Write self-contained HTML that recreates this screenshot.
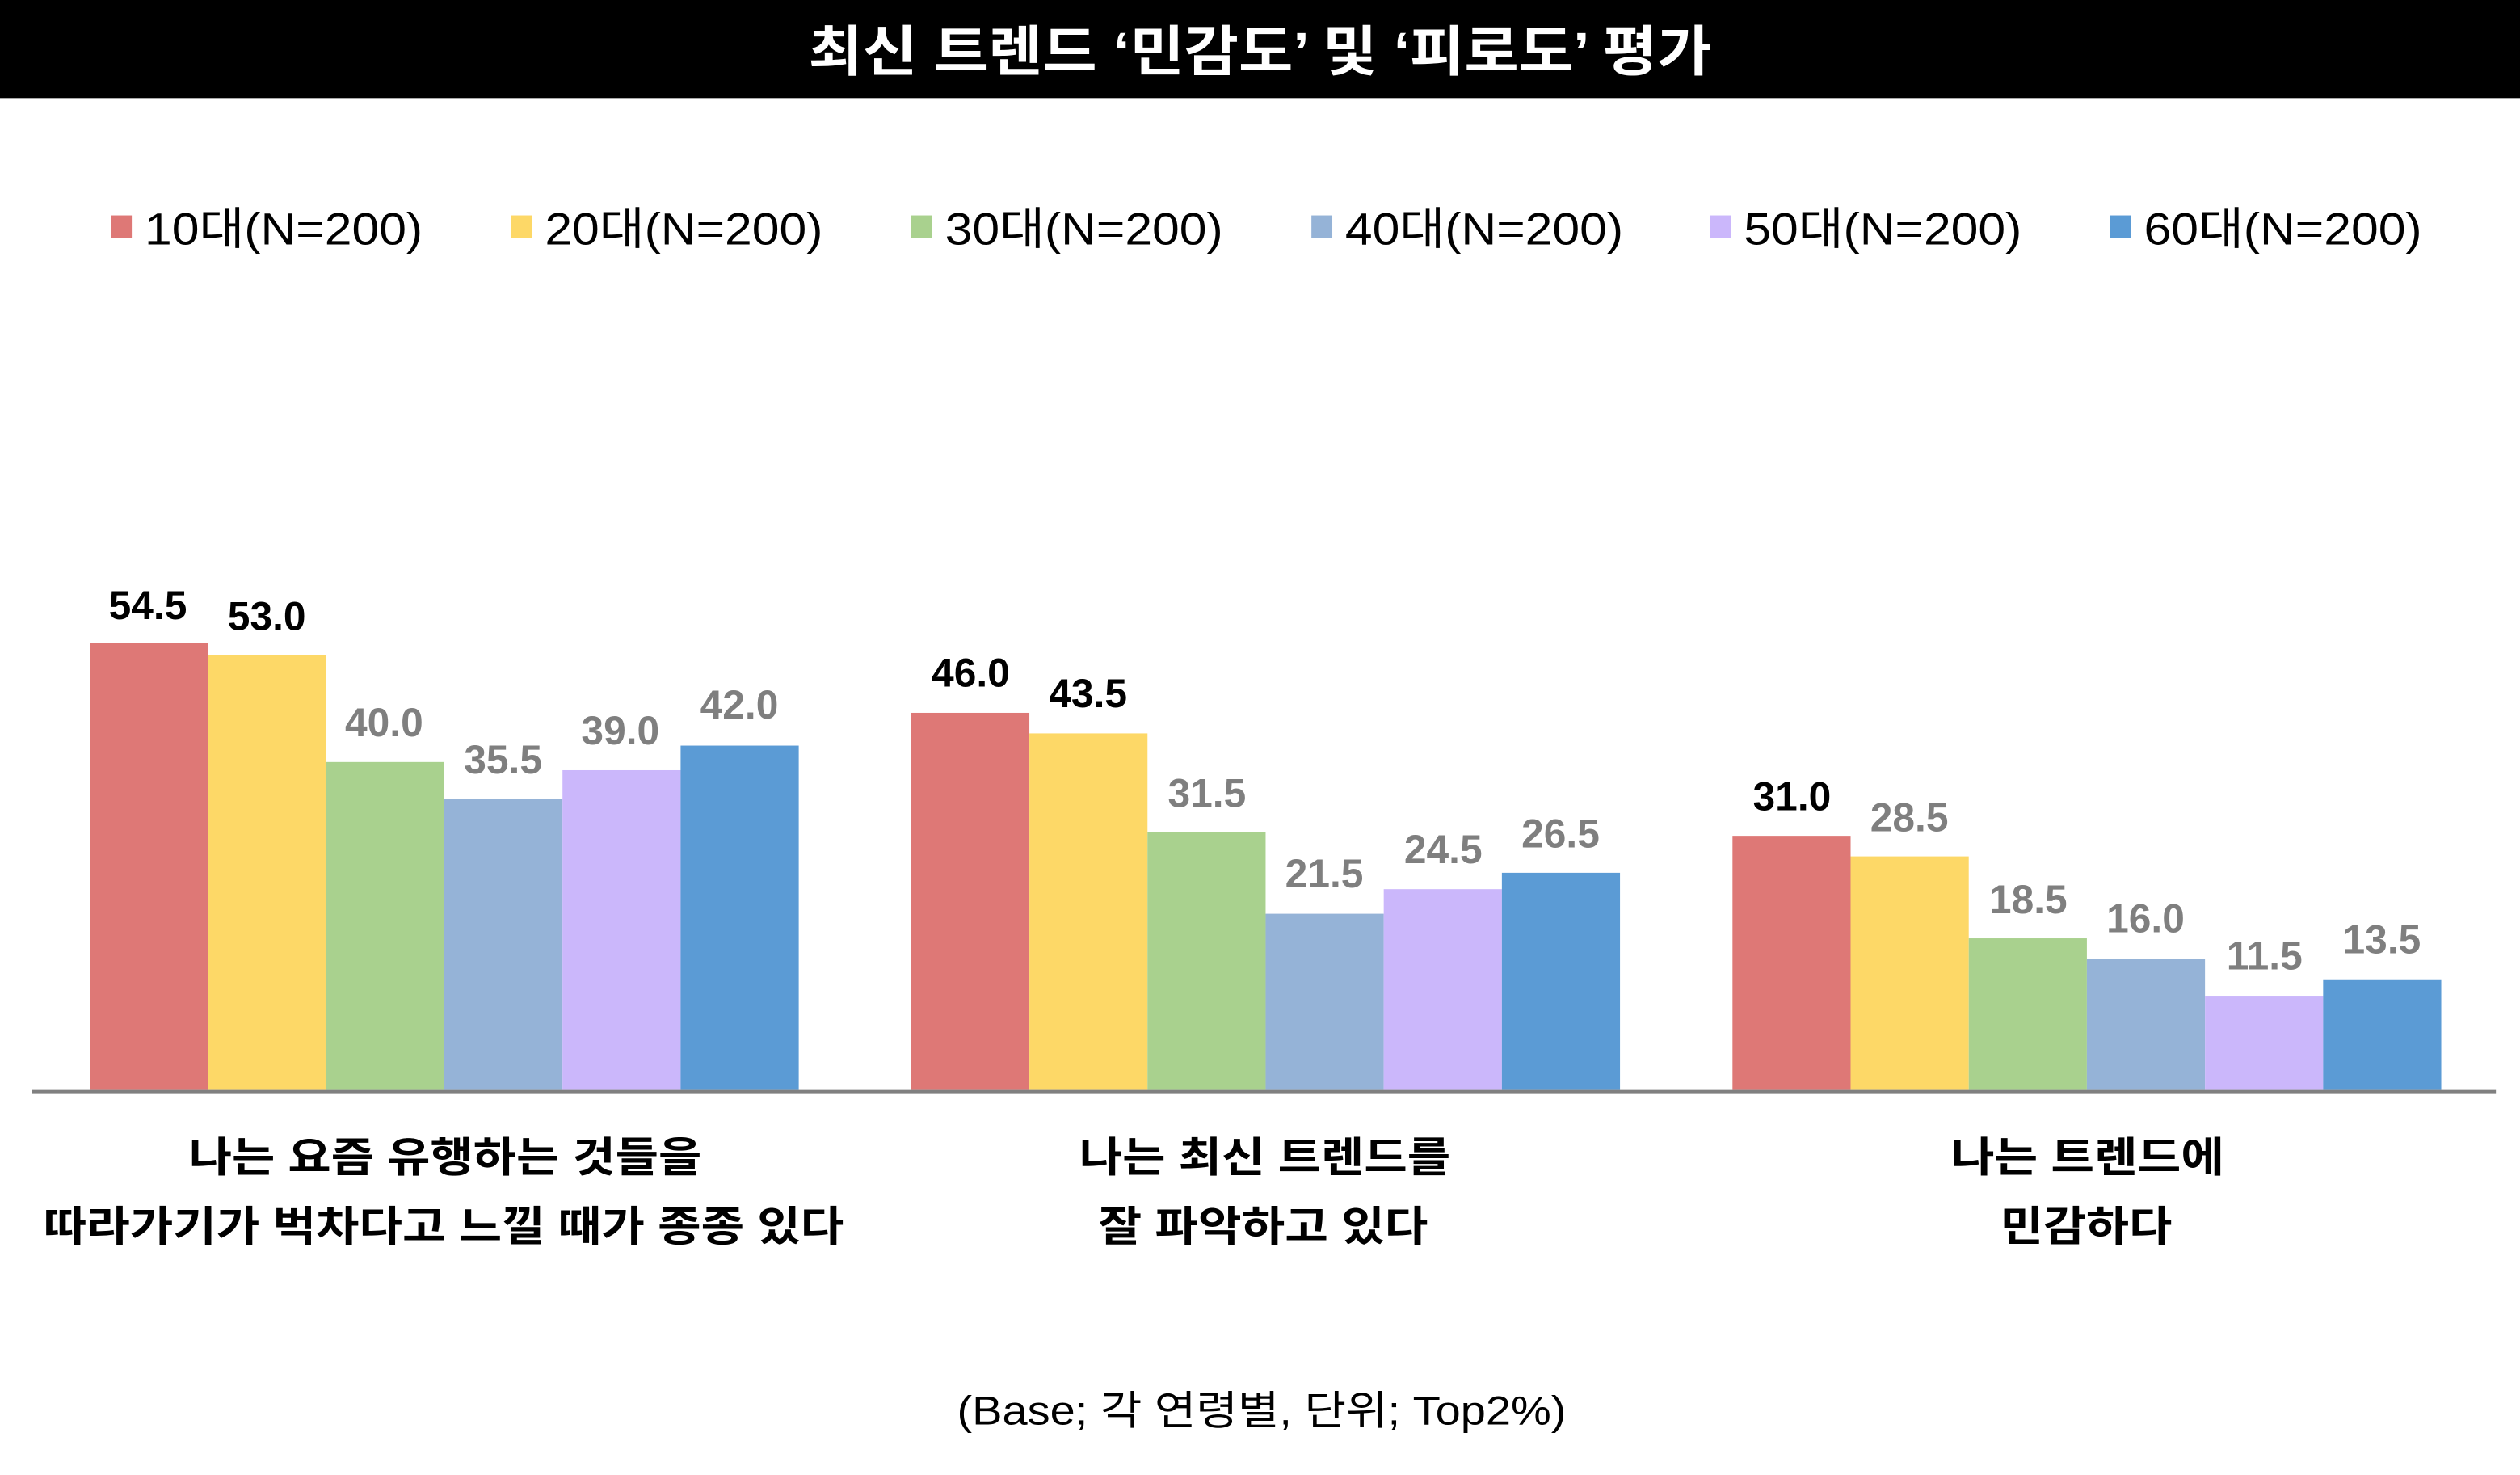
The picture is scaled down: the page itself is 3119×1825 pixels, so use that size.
<!DOCTYPE html>
<html><head><meta charset="utf-8"><style>
html,body{margin:0;padding:0;background:#fff}
svg{display:block}
text{font-family:"Liberation Sans","Noto Sans CJK KR",sans-serif}
</style></head><body>
<svg width="3119" height="1825" viewBox="0 0 1568 917.5" preserveAspectRatio="none" xmlns="http://www.w3.org/2000/svg">
<rect x="0" y="0" width="1568" height="61" fill="#000"/>
<text x="784" y="44" text-anchor="middle" font-size="34" font-weight="bold" fill="#fff" textLength="562" lengthAdjust="spacingAndGlyphs">최신 트렌드 ‘민감도’ 및 ‘피로도’ 평가</text>
<g font-size="28" fill="#000">
<rect x="69" y="134" width="13" height="14" fill="#de7876"/><text x="90" y="152" textLength="173" lengthAdjust="spacingAndGlyphs">10대(N=200)</text>
<rect x="318" y="134" width="13" height="14" fill="#fdd867"/><text x="339" y="152" textLength="173" lengthAdjust="spacingAndGlyphs">20대(N=200)</text>
<rect x="567" y="134" width="13" height="14" fill="#a9d18e"/><text x="588" y="152" textLength="173" lengthAdjust="spacingAndGlyphs">30대(N=200)</text>
<rect x="816" y="134" width="13" height="14" fill="#95b3d7"/><text x="837" y="152" textLength="173" lengthAdjust="spacingAndGlyphs">40대(N=200)</text>
<rect x="1064" y="134" width="13" height="14" fill="#cbb7fb"/><text x="1085" y="152" textLength="173" lengthAdjust="spacingAndGlyphs">50대(N=200)</text>
<rect x="1313" y="134" width="13" height="14" fill="#5b9bd5"/><text x="1334" y="152" textLength="173" lengthAdjust="spacingAndGlyphs">60대(N=200)</text>
</g>
<g id="bars">
<rect x="56" y="400" width="73.5" height="278" fill="#de7876"/>
<rect x="129.5" y="407.7" width="73.5" height="270.3" fill="#fdd867"/>
<rect x="203" y="474" width="73.5" height="204" fill="#a9d18e"/>
<rect x="276.5" y="496.9" width="73.5" height="181.1" fill="#95b3d7"/>
<rect x="350" y="479.1" width="73.5" height="198.9" fill="#cbb7fb"/>
<rect x="423.5" y="463.8" width="73.5" height="214.2" fill="#5b9bd5"/>
<rect x="567" y="443.4" width="73.5" height="234.6" fill="#de7876"/>
<rect x="640.5" y="456.2" width="73.5" height="221.8" fill="#fdd867"/>
<rect x="714" y="517.4" width="73.5" height="160.6" fill="#a9d18e"/>
<rect x="787.5" y="568.4" width="73.5" height="109.6" fill="#95b3d7"/>
<rect x="861" y="553.1" width="73.5" height="124.9" fill="#cbb7fb"/>
<rect x="934.5" y="542.9" width="73.5" height="135.1" fill="#5b9bd5"/>
<rect x="1078" y="519.9" width="73.5" height="158.1" fill="#de7876"/>
<rect x="1151.5" y="532.7" width="73.5" height="145.3" fill="#fdd867"/>
<rect x="1225" y="583.7" width="73.5" height="94.3" fill="#a9d18e"/>
<rect x="1298.5" y="596.4" width="73.5" height="81.6" fill="#95b3d7"/>
<rect x="1372" y="619.4" width="73.5" height="58.6" fill="#cbb7fb"/>
<rect x="1445.5" y="609.2" width="73.5" height="68.8" fill="#5b9bd5"/>
</g>
<line x1="20" y1="679" x2="1553" y2="679" stroke="#808080" stroke-width="2"/>
<g font-size="25" font-weight="bold" text-anchor="middle" fill="#7f7f7f">
<text x="92" y="385" fill="#000">54.5</text>
<text x="166" y="392" fill="#000">53.0</text>
<text x="239" y="458">40.0</text>
<text x="313" y="481">35.5</text>
<text x="386" y="463">39.0</text>
<text x="460" y="447">42.0</text>
<text x="604" y="427" fill="#000">46.0</text>
<text x="677" y="440" fill="#000">43.5</text>
<text x="751" y="502">31.5</text>
<text x="824" y="552">21.5</text>
<text x="898" y="537">24.5</text>
<text x="971" y="527">26.5</text>
<text x="1115" y="504" fill="#000">31.0</text>
<text x="1188" y="517">28.5</text>
<text x="1262" y="568">18.5</text>
<text x="1335" y="580">16.0</text>
<text x="1409" y="603">11.5</text>
<text x="1482" y="593">13.5</text>
</g>
<g font-size="26" text-anchor="middle" fill="#000" font-weight="bold" lengthAdjust="spacingAndGlyphs">
<text x="277" y="729" textLength="319" lengthAdjust="spacingAndGlyphs">나는 요즘 유행하는 것들을</text>
<text x="276" y="772" textLength="498" lengthAdjust="spacingAndGlyphs">따라가기가 벅차다고 느낄 때가 종종 있다</text>
<text x="787" y="729" textLength="231" lengthAdjust="spacingAndGlyphs">나는 최신 트렌드를</text>
<text x="786" y="772" textLength="205" lengthAdjust="spacingAndGlyphs">잘 파악하고 있다</text>
<text x="1299" y="729" textLength="170" lengthAdjust="spacingAndGlyphs">나는 트렌드에</text>
<text x="1298" y="772" textLength="107" lengthAdjust="spacingAndGlyphs">민감하다</text>
</g>
<text x="785" y="886" font-size="25" text-anchor="middle" fill="#000" textLength="379" lengthAdjust="spacingAndGlyphs">(Base; 각 연령별, 단위; Top2%)</text>
</svg>
</body></html>
